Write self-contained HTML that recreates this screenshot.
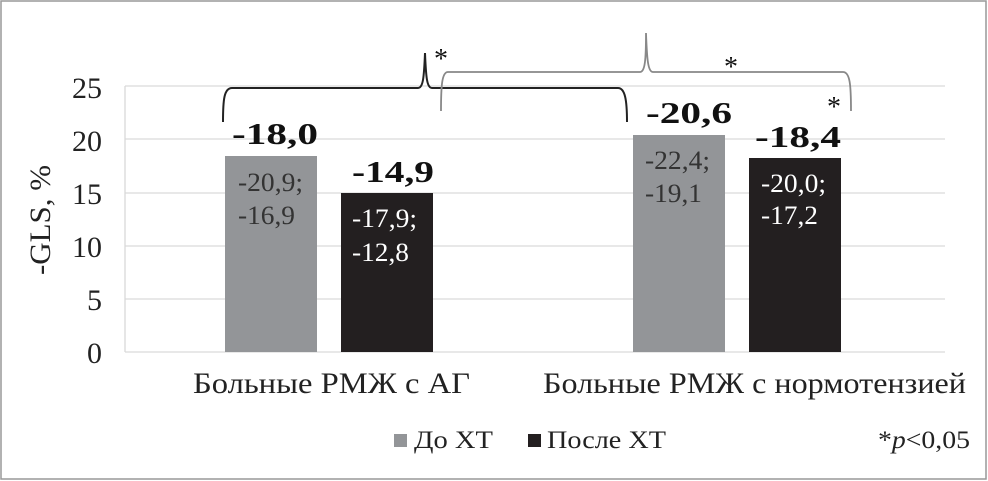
<!DOCTYPE html>
<html><head><meta charset="utf-8"><style>
body{margin:0;background:#fff;}
svg{display:block;font-family:"Liberation Serif",serif;}
</style></head><body>
<svg width="988" height="481" viewBox="0 0 988 481">
<rect x="1" y="1" width="985" height="478" fill="#fff" stroke="#999" stroke-width="1.5"/>
<g stroke="#d9d9d9" stroke-width="1.3">
<line x1="125" y1="86" x2="945" y2="86"/>
<line x1="125" y1="139" x2="945" y2="139"/>
<line x1="125" y1="193" x2="945" y2="193"/>
<line x1="125" y1="246" x2="945" y2="246"/>
<line x1="125" y1="299" x2="945" y2="299"/>
<line x1="125" y1="352" x2="945" y2="352"/>
<line x1="125" y1="86" x2="125" y2="352"/>
</g>
<g font-size="30" fill="#222" text-anchor="end">
<text x="102" y="98">25</text><text x="102" y="151">20</text><text x="102" y="204">15</text>
<text x="102" y="257">10</text><text x="102" y="310">5</text><text x="102" y="363">0</text>
</g>
<text transform="translate(50,220) rotate(-90)" font-size="30" fill="#222" text-anchor="middle" textLength="110" lengthAdjust="spacingAndGlyphs">-GLS, %</text>
<rect x="225" y="156" width="92" height="196" fill="#939598"/>
<rect x="341" y="193" width="92" height="159" fill="#231f20"/>
<rect x="633" y="135" width="92" height="217" fill="#939598"/>
<rect x="749" y="158" width="92" height="194" fill="#231f20"/>
<g font-size="31" font-weight="bold" fill="#111">
<text x="232" y="144" textLength="86" lengthAdjust="spacingAndGlyphs">-18,0</text>
<text x="352" y="182" textLength="82" lengthAdjust="spacingAndGlyphs">-14,9</text>
<text x="646" y="123" textLength="86" lengthAdjust="spacingAndGlyphs">-20,6</text>
<text x="755" y="147" textLength="86" lengthAdjust="spacingAndGlyphs">-18,4</text>
</g>
<g font-size="26">
<text x="238" y="191" fill="#333" textLength="65" lengthAdjust="spacingAndGlyphs">-20,9;</text>
<text x="238" y="224" fill="#333" textLength="57" lengthAdjust="spacingAndGlyphs">-16,9</text>
<text x="352" y="227" fill="#fff" textLength="65" lengthAdjust="spacingAndGlyphs">-17,9;</text>
<text x="352" y="261" fill="#fff" textLength="57" lengthAdjust="spacingAndGlyphs">-12,8</text>
<text x="645" y="169" fill="#333" textLength="65" lengthAdjust="spacingAndGlyphs">-22,4;</text>
<text x="645" y="202" fill="#333" textLength="57" lengthAdjust="spacingAndGlyphs">-19,1</text>
<text x="761" y="192" fill="#fff" textLength="65" lengthAdjust="spacingAndGlyphs">-20,0;</text>
<text x="761" y="224" fill="#fff" textLength="57" lengthAdjust="spacingAndGlyphs">-17,2</text>
</g>
<path d="M223,122 C223,100 224,88 232,88 L418,88 C423,88 424,78 425,53 C426,78 427,88 432,88 L618,88 C625,88 627,100 627,122" fill="none" stroke="#222" stroke-width="2"/>
<path d="M441,111 C441,85 442,72 448,72 L640,72 C645,72 646,60 646,33 C647,60 648,72 653,72 L843,72 C850,72 851,85 851,111" fill="none" stroke="#888" stroke-width="1.8"/>
<g font-size="28" fill="#111" text-anchor="middle">
<text x="441" y="68">*</text><text x="731" y="76">*</text><text x="834" y="116">*</text>
</g>
<g font-size="30" fill="#222">
<text x="193" y="393" textLength="277" lengthAdjust="spacingAndGlyphs">Больные РМЖ с АГ</text>
<text x="543" y="393" textLength="423" lengthAdjust="spacingAndGlyphs">Больные РМЖ с нормотензией</text>
</g>
<rect x="394" y="434" width="13" height="13" fill="#939598"/>
<text x="414" y="448" font-size="25" fill="#222" textLength="79" lengthAdjust="spacingAndGlyphs">До ХТ</text>
<rect x="528" y="434" width="13" height="13" fill="#231f20"/>
<text x="547" y="448" font-size="25" fill="#222" textLength="119" lengthAdjust="spacingAndGlyphs">После ХТ</text>
<text x="878" y="448" font-size="25" fill="#222" textLength="92" lengthAdjust="spacingAndGlyphs">*<tspan font-style="italic">p</tspan>&lt;0,05</text>
</svg>
</body></html>
